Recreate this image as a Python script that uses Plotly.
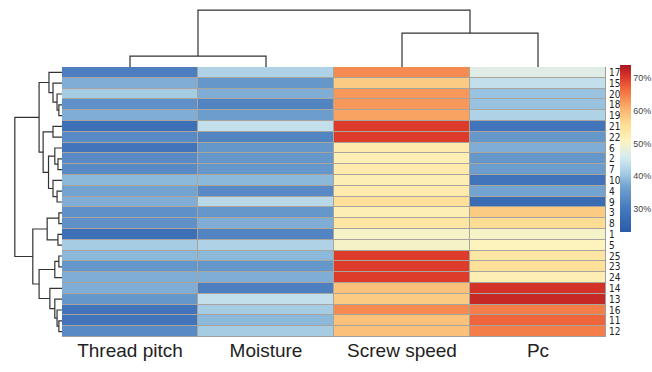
import plotly.graph_objects as go

# ---------------- data ----------------
columns = ["Thread pitch", "Moisture", "Screw speed", "Pc"]
row_labels = ["17", "15", "20", "18", "19", "21", "22", "6", "2", "7", "10", "4", "9",
              "3", "8", "1", "5", "25", "23", "24", "14", "13", "16", "11", "12"]

thread_pitch = [31, 38, 41, 34, 38, 28, 33, 29, 33, 33, 39, 37, 38,
                34, 34, 28, 41, 39, 35, 38, 38, 35, 29, 29, 33]
moisture = [42, 35, 38, 32, 36, 44, 32, 35, 35, 35, 39, 33, 43,
            35, 38, 32, 42, 39, 35, 38, 31, 44, 41, 39, 41]
screw_speed = [64, 58, 63, 63, 62, 70, 70, 53, 52, 53, 52, 53, 55,
               52, 54, 50, 50, 70, 70, 70, 59, 58, 64, 59, 59]
pc = [47, 44, 40, 40, 42, 29, 35, 38, 35, 36, 29, 37, 27,
      58, 56, 50, 51, 54, 55, 52, 71, 72, 65, 67, 65]

# row linkage: [left id, right id, height]; leaves are 0..24 in display order
row_merges = [
    [3, 4, 0.7], [2, 25, 1.1], [1, 26, 2.0], [0, 27, 2.9],
    [5, 6, 2.0],
    [8, 9, 0.9], [7, 30, 1.6], [11, 12, 1.1], [10, 32, 2.0], [31, 33, 3.0],
    [29, 34, 4.2], [28, 35, 5.1],
    [13, 14, 0.7], [15, 16, 0.9], [37, 38, 3.3],
    [17, 18, 0.7], [40, 19, 1.6],
    [23, 24, 0.7], [22, 42, 1.1], [21, 43, 1.6], [20, 44, 2.7],
    [41, 45, 5.1], [39, 46, 6.5], [36, 47, 10.5],
]
# column linkage
col_merges = [[0, 1, 1.6], [2, 3, 5.0], [4, 5, 8.4]]

cbar_vals = [30, 40, 50, 60, 70]
cbar_text = ["30%", "40%", "50%", "60%", "70%"]

# ---------------- helpers ----------------
def dendro_segments(n_leaves, merges):
    pos = {i: float(i) for i in range(n_leaves)}
    hgt = {i: 0.0 for i in range(n_leaves)}
    P, H = [], []
    for k, (a, b, h) in enumerate(merges):
        nid = n_leaves + k
        P += [pos[a], pos[a], pos[b], pos[b], None]
        H += [hgt[a], h, h, hgt[b], None]
        pos[nid] = (pos[a] + pos[b]) / 2
        hgt[nid] = h
    return P, H

z = [[thread_pitch[i], moisture[i], screw_speed[i], pc[i]] for i in range(len(row_labels))]

colorscale = [
    [0.0, "#2b5ba7"], [0.137, "#4578bd"], [0.275, "#73a3d0"], [0.35, "#a3cbe3"],
    [0.45, "#d8ecf1"], [0.55, "#fdf3bc"], [0.65, "#fddc92"], [0.75, "#f9ac68"],
    [0.85, "#f26e3e"], [0.93, "#dc3629"], [1.0, "#aa1620"],
]

W, Hh = 652, 372
hx0, hx1 = 62 / W, 606 / W
hy0, hy1 = 1 - 337 / Hh, 1 - 67 / Hh

fig = go.Figure()

fig.add_trace(go.Heatmap(
    z=z, x=list(range(len(columns))), y=list(range(len(row_labels))),
    colorscale=colorscale, zmin=23, zmax=74, xgap=1, ygap=1,
    xaxis="x", yaxis="y",
    colorbar=dict(
        x=620 / W, xanchor="left", xpad=0, ypad=0, y=1 - 65 / Hh, yanchor="top",
        len=(232 - 65) / Hh, lenmode="fraction", thickness=11,
        outlinewidth=0, tickvals=cbar_vals, ticktext=cbar_text,
        ticks="", ticklabelposition="outside",
        tickfont=dict(family="Liberation Sans, Arial", size=9, color="#444"),
    ),
    hoverinfo="skip",
))

rp, rh = dendro_segments(len(row_labels), row_merges)
fig.add_trace(go.Scatter(x=rh, y=rp, mode="lines", xaxis="x2", yaxis="y",
                         line=dict(color="#333333", width=1.2), hoverinfo="skip",
                         showlegend=False))

cp, ch = dendro_segments(len(columns), col_merges)
fig.add_trace(go.Scatter(x=cp, y=ch, mode="lines", xaxis="x", yaxis="y3",
                         line=dict(color="#333333", width=1.2), hoverinfo="skip",
                         showlegend=False))

fig.add_shape(type="rect", xref="x", yref="y", x0=-0.5, x1=len(columns) - 0.5,
              y0=-0.5, y1=len(row_labels) - 0.5, fillcolor="#a8a49e",
              line=dict(color="#9a9a9a", width=1), layer="below")

fig.update_layout(
    width=W, height=Hh, margin=dict(l=0, r=0, t=0, b=0, autoexpand=False),
    paper_bgcolor="white", plot_bgcolor="white", showlegend=False,
    xaxis=dict(domain=[hx0, hx1], range=[-0.5, len(columns) - 0.5],
               tickvals=list(range(len(columns))), ticktext=columns,
               tickfont=dict(family="Liberation Sans, Arial", size=19, color="#222"),
               showgrid=False, zeroline=False, showline=False, ticks="",
               anchor="y", automargin=False),
    yaxis=dict(domain=[hy0, hy1], range=[len(row_labels) - 0.5, -0.5],
               tickvals=list(range(len(row_labels))), ticktext=row_labels,
               side="right", anchor="x", ticks="", ticklabelstandoff=2,
               automargin=False,
               tickfont=dict(family="Liberation Sans Narrow, DejaVu Sans Condensed, Arial",
                             size=10, color="#222"),
               showgrid=False, zeroline=False, showline=False),
    xaxis2=dict(domain=[0, hx0], range=[13.8, 0], anchor="y",
                showgrid=False, zeroline=False, showline=False,
                showticklabels=False, ticks="", automargin=False),
    yaxis3=dict(domain=[hy1, 1], range=[0, 9.9], anchor="x",
                showgrid=False, zeroline=False, showline=False,
                showticklabels=False, ticks="", automargin=False),
)

fig.write_html("out.html", config={"displayModeBar": False},
               post_script="document.body.style.margin='0';")
